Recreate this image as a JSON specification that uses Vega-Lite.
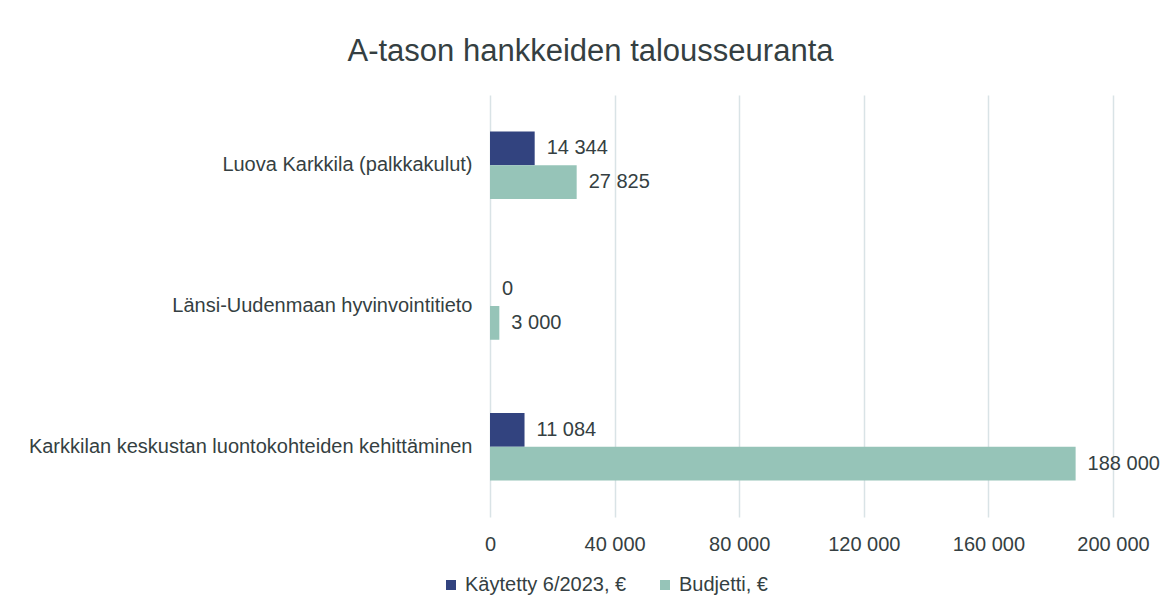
{
  "$schema": "https://vega.github.io/schema/vega-lite/v6.json",
  "autosize": {"type": "none"},
  "padding": {"left": 490, "top": 95, "right": 49, "bottom": 93},
  "width": 623,
  "height": 422,
  "background": "white",
  "config": {
    "locale": {"number": {"decimal": ",", "thousands": " ", "grouping": [3], "currency": ["", " €"]}},
    "font": "Liberation Sans, Arial, sans-serif",
    "view": {"stroke": null},
    "text": {"font": "Liberation Sans, Arial, sans-serif"}
  },
  "title": {
    "text": "A-tason hankkeiden talousseuranta",
    "fontSize": 31,
    "fontWeight": "normal",
    "color": "#353f42",
    "anchor": "middle",
    "frame": "group",
    "dx": -211,
    "offset": 27
  },
  "data": {
    "values": [
      {"hanke": "Luova Karkkila (palkkakulut)", "sarja": "Käytetty 6/2023, €", "arvo": 14344},
      {"hanke": "Luova Karkkila (palkkakulut)", "sarja": "Budjetti, €", "arvo": 27825},
      {"hanke": "Länsi-Uudenmaan hyvinvointitieto", "sarja": "Käytetty 6/2023, €", "arvo": 0},
      {"hanke": "Länsi-Uudenmaan hyvinvointitieto", "sarja": "Budjetti, €", "arvo": 3000},
      {"hanke": "Karkkilan keskustan luontokohteiden kehittäminen", "sarja": "Käytetty 6/2023, €", "arvo": 11084},
      {"hanke": "Karkkilan keskustan luontokohteiden kehittäminen", "sarja": "Budjetti, €", "arvo": 188000}
    ]
  },
  "encoding": {
    "y": {
      "field": "hanke",
      "type": "nominal",
      "sort": ["Luova Karkkila (palkkakulut)", "Länsi-Uudenmaan hyvinvointitieto", "Karkkilan keskustan luontokohteiden kehittäminen"],
      "scale": {"paddingInner": 0.52, "paddingOuter": 0.26},
      "axis": {
        "title": null,
        "ticks": false,
        "domain": false,
        "grid": false,
        "labelFontSize": 20,
        "labelColor": "#353f42",
        "labelPadding": 18,
        "labelLimit": 500
      }
    },
    "yOffset": {
      "field": "sarja",
      "type": "nominal",
      "sort": ["Käytetty 6/2023, €", "Budjetti, €"]
    },
    "x": {
      "field": "arvo",
      "type": "quantitative",
      "scale": {"domain": [0, 200000], "nice": false},
      "axis": {
        "title": null,
        "values": [0, 40000, 80000, 120000, 160000, 200000],
        "format": ",d",
        "ticks": false,
        "domain": false,
        "grid": true,
        "gridColor": "#d9e3e6",
        "gridWidth": 1.5,
        "labelFontSize": 20,
        "labelColor": "#353f42",
        "labelPadding": 17,
        "labelFlush": false,
        "labelOverlap": false
      }
    }
  },
  "layer": [
    {
      "mark": {"type": "bar"},
      "encoding": {
        "color": {
          "field": "sarja",
          "type": "nominal",
          "sort": ["Käytetty 6/2023, €", "Budjetti, €"],
          "scale": {"domain": ["Käytetty 6/2023, €", "Budjetti, €"], "range": ["#32437f", "#96c4b8"]},
          "legend": {
            "title": null,
            "orient": "none",
            "direction": "horizontal",
            "legendX": -49,
            "legendY": 480,
            "symbolType": "square",
            "symbolSize": 100,
            "labelFontSize": 20,
            "labelColor": "#353f42",
            "labelLimit": 400,
            "columnPadding": 28,
            "labelOffset": 4
          }
        }
      }
    },
    {
      "mark": {"type": "text", "align": "left", "baseline": "middle", "dx": 12, "fontSize": 20, "color": "#353f42"},
      "encoding": {
        "text": {"field": "arvo", "type": "quantitative", "format": ",d"}
      }
    }
  ]
}
